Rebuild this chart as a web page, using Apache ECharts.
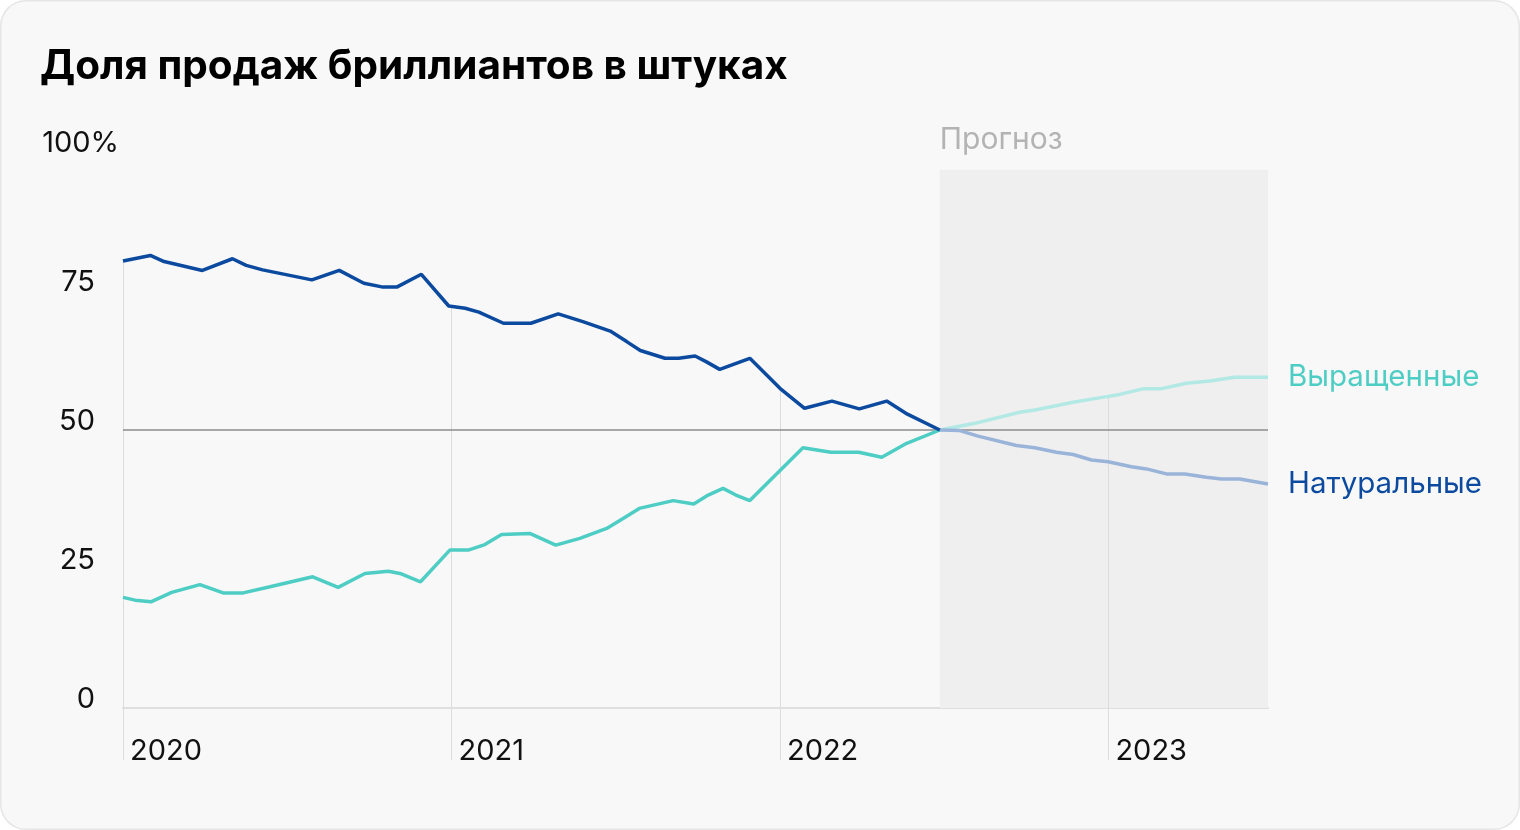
<!DOCTYPE html>
<html><head><meta charset="utf-8">
<script src="https://cdn.jsdelivr.net/npm/echarts@6/dist/echarts.min.js"></script>
<style>
html,body{margin:0;padding:0;background:#fff;}
#c{width:1520px;height:830px;background:#f8f8f8;border-radius:26px;box-shadow:inset 0 0 0 1.5px #e6e6e6;overflow:hidden;}
</style></head><body><div id="c"></div>
<script>
const titleText = 'Доля продаж бриллиантов в штуках';
const yearLabels = ['2020', '2021', '2022', '2023'];
const yearTicks = [0, 12, 24, 36]; // months since Jan 2020
const yTickLabels = ['0', '25', '50', '75', '100'];
const forecastLabel = 'Прогноз';
const nameNat = 'Натуральные';
const nameGr = 'Выращенные';

// x = months since Jan 2020
const natMonths = [0,1.0,1.5,2.9,4.0,4.5,5.1,6.9,7.9,8.8,9.5,10.0,10.9,11.9,12.5,13.0,13.9,14.9,15.9,16.8,17.8,18.4,18.9,19.8,20.3,20.9,21.3,21.8,22.9,24.0,24.9,25.9,26.9,27.9,28.6,29.84];
const natValues = [80.4,81.4,80.3,78.7,80.8,79.6,78.8,77.0,78.7,76.4,75.7,75.7,78.0,72.3,71.9,71.2,69.2,69.2,70.9,69.5,67.8,65.9,64.3,62.9,62.9,63.3,62.3,60.9,62.9,57.5,53.9,55.2,53.8,55.2,53.0,50.0];
const natFcMonths = [29.84,30.57,31.24,32.64,33.31,34.1,34.71,35.38,35.99,36.84,37.39,38.12,38.79,39.58,40.13,40.8,41.83];
const natFcValues = [50.0,49.9,48.9,47.2,46.8,46.0,45.6,44.6,44.3,43.4,43.0,42.1,42.1,41.5,41.2,41.2,40.3];

const grMonths = [0,0.44,1.02,1.78,2.81,3.66,4.39,5.37,6.93,7.86,8.84,9.69,10.12,10.87,11.94,12.61,13.22,13.83,14.86,15.81,16.69,17.67,18.27,18.86,20.1,20.85,21.38,21.92,22.39,22.9,24.84,25.86,26.88,27.72,28.63,29.84];
const grValues = [19.9,19.4,19.1,20.8,22.2,20.7,20.7,21.8,23.6,21.7,24.2,24.6,24.2,22.7,28.4,28.4,29.4,31.2,31.4,29.3,30.5,32.3,34.1,35.9,37.3,36.7,38.3,39.5,38.3,37.3,46.8,46.0,46.0,45.1,47.6,50.0];
const grFcMonths = [29.84,31.12,32.76,33.31,34.71,35.44,36.41,37.26,37.9,38.85,39.7,40.61,41.83];
const grFcValues = [50.0,51.2,53.2,53.6,55.0,55.6,56.4,57.4,57.4,58.4,58.8,59.5,59.5];

const forecastStart = 29.84;
const forecastEnd = 41.83;

const zip = (xs, ys) => xs.map((x, i) => [x, ys[i]]);
function interp(xs, ys, m) {
  if (m < xs[0] || m > xs[xs.length - 1]) return -Infinity;
  for (let i = 0; i < xs.length - 1; i++) {
    if (m >= xs[i] && m <= xs[i + 1]) {
      const t = (m - xs[i]) / (xs[i + 1] - xs[i]);
      return ys[i] + t * (ys[i + 1] - ys[i]);
    }
  }
  return ys[ys.length - 1];
}
function topAt(m) {
  return Math.max(interp(natMonths, natValues, m), interp(grMonths, grValues, m),
    interp(natFcMonths, natFcValues, m), interp(grFcMonths, grFcValues, m));
}

const FONT = 'Inter, Roboto, sans-serif';
const FS = 29;
const C_NAT = '#0b4a9e', C_GR = '#4ecdc4', C_NAT_FC = '#9ab4d9', C_GR_FC = '#b2e9e5';

const chart = echarts.init(document.getElementById('c'));
chart.setOption({
  animation: false,
  backgroundColor: 'transparent',
  title: { text: titleText, left: 35, top: 41, textStyle: { fontFamily: FONT, fontSize: 40.5, fontWeight: 700, color: '#000' } },
  grid: { left: 123, right: 252, top: 152, bottom: 122 },
  xAxis: {
    type: 'value', min: 0, max: forecastEnd, interval: 12,
    axisLine: { show: true, lineStyle: { color: '#dfdfdf', width: 2 } },
    axisTick: { show: false }, splitLine: { show: false },
    axisLabel: {
      showMaxLabel: false, margin: 29, align: 'left', verticalAlign: 'top', padding: [0, 0, 0, 7],
      fontFamily: FONT, fontSize: FS, color: '#111',
      formatter: v => (v % 12 === 0 ? yearLabels[v / 12] : '')
    }
  },
  yAxis: {
    type: 'value', min: 0, max: 100, interval: 25,
    axisLine: { show: false }, axisTick: { show: false }, splitLine: { show: false },
    axisLabel: {
      margin: 4, align: 'right', verticalAlign: 'middle', padding: [0, 0, 18, 0],
      formatter: v => '{n|' + yTickLabels[v / 25] + '}' + (v === 100 ? '{p|%}' : '{h|%}'),
      rich: {
        n: { fontFamily: FONT, fontSize: FS, color: '#111' },
        p: { fontFamily: FONT, fontSize: FS, color: '#111' },
        h: { fontFamily: FONT, fontSize: FS, color: 'transparent', width: 24 }
      }
    }
  },
  series: [
    {
      type: 'line', name: 'forecastArea', data: [], z: 1, silent: true,
      markArea: {
        silent: true,
        itemStyle: { color: '#efefef' },
        label: { show: true, position: [0, -30], align: 'left', verticalAlign: 'middle', formatter: forecastLabel, fontFamily: FONT, fontSize: 30, color: '#b3b3b3' },
        data: [[{ xAxis: forecastStart, yAxis: 0 }, { xAxis: forecastEnd, yAxis: 96.8 }]]
      }
    },
    {
      type: 'custom', silent: true, clip: false, z: 3,
      data: yearTicks.map(m => [m, topAt(m)]),
      renderItem: (params, api) => {
        const top = api.coord([api.value(0), api.value(1)]);
        const bot = api.coord([api.value(0), 0]);
        const x = Math.round(top[0]) + 0.5;
        return { type: 'line', shape: { x1: x, y1: top[1], x2: x, y2: bot[1] + 52 }, style: { stroke: '#dcdcdc', lineWidth: 1 } };
      }
    },
    {
      type: 'line', name: 'line50', data: [], z: 4, silent: true,
      markLine: { silent: true, symbol: ['none', 'none'], label: { show: false },
        lineStyle: { color: '#8c8c8c', width: 1.5, type: 'solid' }, data: [{ yAxis: 50 }] }
    },
    { type: 'line', name: nameGr + ' прогноз', data: zip(grFcMonths, grFcValues), showSymbol: false, z: 5,
      lineStyle: { color: C_GR_FC, width: 3.5 }, itemStyle: { color: C_GR_FC },
      endLabel: { show: true, formatter: nameGr, distance: 20, fontFamily: FONT, fontSize: 29.5, color: C_GR, padding: [2, 0, 0, 0] } },
    { type: 'line', name: nameNat + ' прогноз', data: zip(natFcMonths, natFcValues), showSymbol: false, z: 5,
      lineStyle: { color: C_NAT_FC, width: 3.5 }, itemStyle: { color: C_NAT_FC },
      endLabel: { show: true, formatter: nameNat, distance: 20, fontFamily: FONT, fontSize: 29.5, color: C_NAT, padding: [2, 0, 0, 0] } },
    { type: 'line', name: nameGr, data: zip(grMonths, grValues), showSymbol: false, z: 6,
      lineStyle: { color: C_GR, width: 3.5 }, itemStyle: { color: C_GR } },
    { type: 'line', name: nameNat, data: zip(natMonths, natValues), showSymbol: false, z: 6,
      lineStyle: { color: C_NAT, width: 3.5 }, itemStyle: { color: C_NAT } }
  ]
});
</script></body></html>
